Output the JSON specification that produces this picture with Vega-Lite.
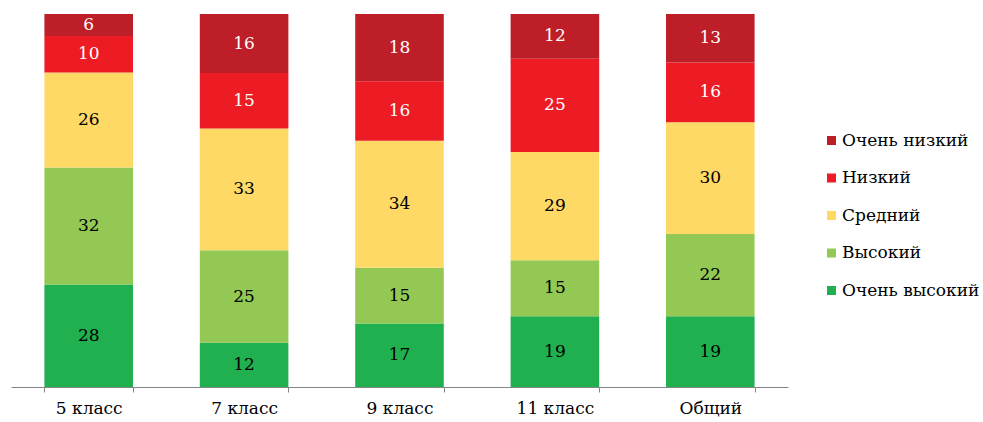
{
  "$schema": "https://vega.github.io/schema/vega-lite/v6.json",
  "width": 777,
  "height": 373,
  "padding": {"left": 11, "top": 14, "right": 5, "bottom": 5},
  "background": "white",
  "config": {"view": {"stroke": null}, "font": "DejaVu Serif"},
  "data": {"values": [
    {"cls": "5 класс", "level": "Очень высокий", "v": 28},
    {"cls": "5 класс", "level": "Высокий", "v": 32},
    {"cls": "5 класс", "level": "Средний", "v": 26},
    {"cls": "5 класс", "level": "Низкий", "v": 10},
    {"cls": "5 класс", "level": "Очень низкий", "v": 6},
    {"cls": "7 класс", "level": "Очень высокий", "v": 12},
    {"cls": "7 класс", "level": "Высокий", "v": 25},
    {"cls": "7 класс", "level": "Средний", "v": 33},
    {"cls": "7 класс", "level": "Низкий", "v": 15},
    {"cls": "7 класс", "level": "Очень низкий", "v": 16},
    {"cls": "9 класс", "level": "Очень высокий", "v": 17},
    {"cls": "9 класс", "level": "Высокий", "v": 15},
    {"cls": "9 класс", "level": "Средний", "v": 34},
    {"cls": "9 класс", "level": "Низкий", "v": 16},
    {"cls": "9 класс", "level": "Очень низкий", "v": 18},
    {"cls": "11 класс", "level": "Очень высокий", "v": 19},
    {"cls": "11 класс", "level": "Высокий", "v": 15},
    {"cls": "11 класс", "level": "Средний", "v": 29},
    {"cls": "11 класс", "level": "Низкий", "v": 25},
    {"cls": "11 класс", "level": "Очень низкий", "v": 12},
    {"cls": "Общий", "level": "Очень высокий", "v": 19},
    {"cls": "Общий", "level": "Высокий", "v": 22},
    {"cls": "Общий", "level": "Средний", "v": 30},
    {"cls": "Общий", "level": "Низкий", "v": 16},
    {"cls": "Общий", "level": "Очень низкий", "v": 13}
  ]},
  "transform": [
    {"calculate": "indexof(['Очень высокий','Высокий','Средний','Низкий','Очень низкий'], datum.level)", "as": "ord"}
  ],
  "encoding": {
    "x": {
      "field": "cls", "type": "nominal", "sort": null,
      "scale": {"paddingInner": 0.43, "paddingOuter": 0.215},
      "axis": {
        "title": null, "labelAngle": 0, "tickBand": "extent",
        "domainColor": "#868686", "tickColor": "#868686", "tickSize": 5,
        "labelFontSize": 17, "labelColor": "#000000", "labelPadding": 8,
        "labelFont": "DejaVu Serif"
      }
    },
    "y": {"field": "v", "type": "quantitative", "stack": "normalize", "axis": null},
    "order": {"field": "ord", "type": "quantitative", "sort": "ascending"}
  },
  "layer": [
    {
      "mark": {"type": "bar"},
      "encoding": {
        "color": {
          "field": "level", "type": "nominal",
          "scale": {
            "domain": ["Очень высокий", "Высокий", "Средний", "Низкий", "Очень низкий"],
            "range": ["#21b04f", "#92c853", "#fed966", "#ed1c24", "#be1e27"]
          },
          "legend": {
            "title": null,
            "values": ["Очень низкий", "Низкий", "Средний", "Высокий", "Очень высокий"],
            "orient": "none", "legendX": 812, "legendY": 118,
            "symbolType": "square", "symbolSize": 81, "symbolStrokeWidth": 0,
            "labelFontSize": 17, "labelFont": "DejaVu Serif", "labelColor": "#000000",
            "rowPadding": 19.5, "labelOffset": 2
          }
        }
      }
    },
    {
      "mark": {"type": "text", "fontSize": 17, "font": "DejaVu Serif"},
      "encoding": {
        "y": {"field": "v", "type": "quantitative", "stack": "normalize", "bandPosition": 0.5},
        "detail": {"field": "level", "type": "nominal"},
        "text": {"field": "v", "type": "quantitative"},
        "color": {
          "condition": {"test": "datum.level == 'Низкий' || datum.level == 'Очень низкий'", "value": "#ffffff"},
          "value": "#000000"
        }
      }
    }
  ]
}
